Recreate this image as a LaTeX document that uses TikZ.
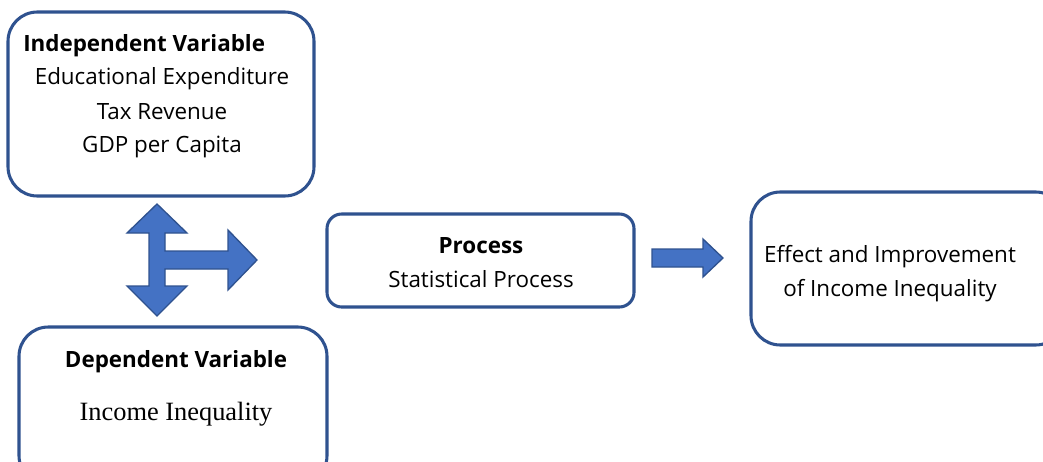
\documentclass[tikz,border=0pt]{standalone}
\usepackage{fontspec}
\setmainfont{Open Sans}
\newfontfamily\serifface{Liberation Serif}
\usepackage{xcolor}
\usepackage{tikz}
\usetikzlibrary{positioning, fit}
\definecolor{myborder}{RGB}{47,82,143}
\definecolor{myfill}{RGB}{68,114,196}
\tikzset{
  bigbox/.style={rectangle, draw=myborder, fill=white, line width=2.3pt,
    rounded corners=22pt, inner sep=0pt},
  smallbox/.style={rectangle, draw=myborder, fill=white, line width=2.3pt,
    rounded corners=11pt, inner sep=0pt},
  label/.style={inner sep=0pt, font=\fontsize{16.8}{25.5}\selectfont},
  title/.style={inner sep=0pt, font=\fontsize{16.8}{25.5}\selectfont\bfseries},
  blockarrow/.style={draw=myborder, fill=myfill, line width=1pt, line join=miter}
}

\begin{document}
\begin{tikzpicture}[x=0.75pt, y=-0.75pt]
  \useasboundingbox (0,0) rectangle (1043,461);
  \clip (0,0) rectangle (1043,461);

  % Boxes
  \node[bigbox, fit={(8,12) (314,196)}] (indep) {};
  \node[bigbox, fit={(19,327) (327,485)}] (dep) {};
  \node[smallbox, fit={(327,214) (634,307)}] (proc) {};
  \node[bigbox, fit={(751,192) (1065,345)}] (effect) {};

  % Texts
  \node[title, anchor=west] (indeptitle) at (23,46) {Independent Variable};
  \node[label] (edu) at (162,79) {Educational Expenditure};
  \node[label] (tax) at (162,112) {Tax Revenue};
  \node[label] (gdp) at (162,147) {GDP per Capita};

  \node[title] (proctitle) at (481,246) {Process};
  \node[label] (stat) at (481,279) {Statistical Process};

  \node[title] (deptitle) at (176,362) {Dependent Variable};
  \node[inner sep=0pt, font=\serifface\fontsize{19.8}{22}\selectfont] (income) at (176,414) {Income Inequality};

  \node[label, align=center] (efftext) at (890,274) {Effect and Improvement\\of Income Inequality};

  % Block arrows
  \draw[blockarrow] (157,204) -- (187,233) -- (165,233) -- (165,251) -- (228,251)
    -- (228,230) -- (257,260) -- (228,290) -- (228,269) -- (165,269) -- (165,286)
    -- (187,286) -- (157,316) -- (127,286) -- (149,286) -- (149,233) -- (127,233) -- cycle;
  \draw[blockarrow] (652,249) -- (703,249) -- (703,239) -- (723,258) -- (703,277)
    -- (703,267) -- (652,267) -- cycle;
\end{tikzpicture}
\end{document}
